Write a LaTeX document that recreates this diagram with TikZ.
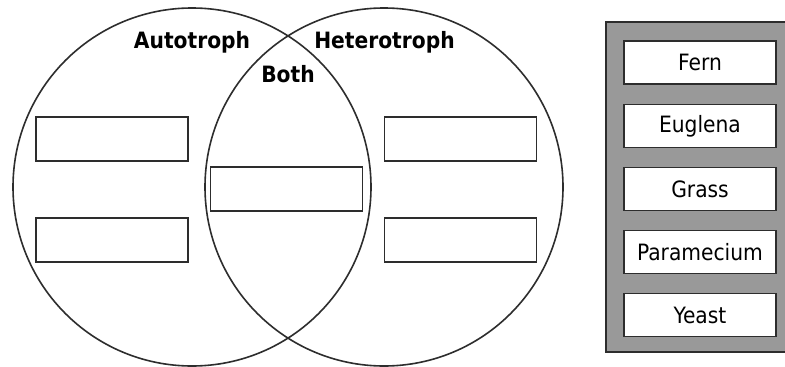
\documentclass[tikz,border=0pt]{standalone}
\usepackage{fontspec}
\setmainfont{DejaVu Sans Condensed}
\definecolor{ink}{RGB}{45,45,45}
\definecolor{panel}{RGB}{153,153,153}
\tikzset{
  ring/.style={draw=ink, line width=1.6pt},
  slot/.style={draw=ink, line width=1.3pt, fill=white, minimum width=152pt, minimum height=44pt, inner sep=0pt},
  chip/.style={draw=ink, line width=1.3pt, fill=white, minimum width=152pt, minimum height=43pt, inner sep=0pt, font=\fontsize{22.5}{25}\selectfont},
  head/.style={anchor=base, inner sep=0pt, font=\bfseries\fontsize{22.5}{26}\selectfont},
}
\begin{document}
\begin{tikzpicture}[x=1pt, y=-1pt]
\useasboundingbox (0,0) rectangle (785,367);
\fill[white] (0,0) rectangle (785,367);
% circles
\draw[ring] (192,187) circle[radius=179];
\draw[ring] (384,187) circle[radius=179];
% labels
\node[head] (auto) at (192,48) {Autotroph};
\node[head] (hetero) at (384.5,48) {Heterotroph};
\node[head] (both) at (288,82) {Both};
% answer slots
\node[slot] (l1) at (112,139) {};
\node[slot] (l2) at (112,240) {};
\node[slot] (c1) at (286.5,189) {};
\node[slot] (r1) at (460.5,139) {};
\node[slot] (r2) at (460.5,240) {};
% word bank
\draw[draw=ink, line width=1.3pt, fill=panel] (606,22) rectangle (786,352);
\node[chip] (fern) at (700,62.5) {Fern};
\node[chip] (eug) at (700,126) {Euglena};
\node[chip] (grass) at (700,189) {Grass};
\node[chip] (para) at (700,252) {Paramecium};
\node[chip] (yeast) at (700,315) {Yeast};
\end{tikzpicture}
\end{document}
